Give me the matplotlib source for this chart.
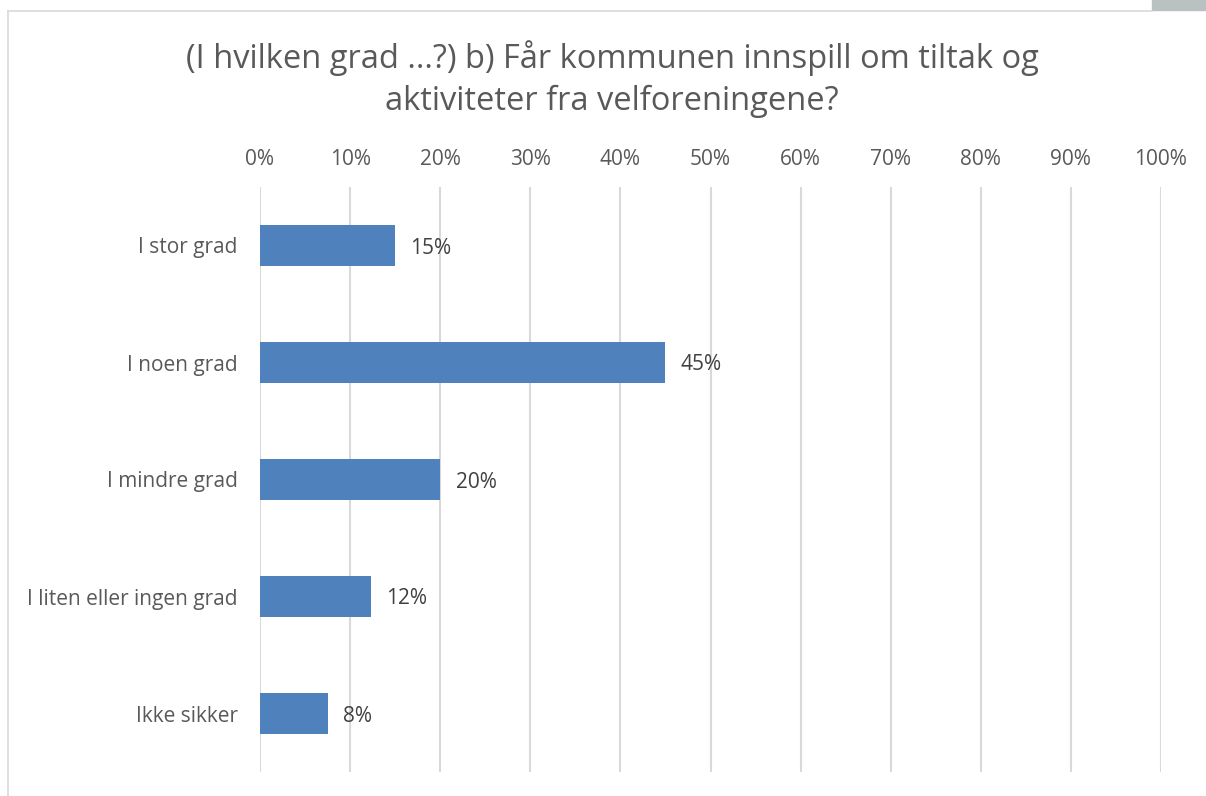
import matplotlib
matplotlib.use("Agg")
import matplotlib.pyplot as plt
from matplotlib.patches import Rectangle
from matplotlib.lines import Line2D

# ── Data ────────────────────────────────────────────────────────────────
categories = ["I stor grad", "I noen grad", "I mindre grad",
              "I liten eller ingen grad", "Ikke sikker"]
values = [15.0, 45.0, 20.0, 12.3, 7.5]
labels = ["15%", "45%", "20%", "12%", "8%"]
ticks = list(range(0, 101, 10))
title = "(I hvilken grad ...?) b) Får kommunen innspill om tiltak og\naktiviteter fra velforeningene?"

W, H = 1206, 796
TXT = "#595959"
plt.rcParams["font.family"] = ["Open Sans", "DejaVu Sans"]

fig = plt.figure(figsize=(W / 100, H / 100), dpi=100)
ax = fig.add_axes([260 / W, 1 - 772 / H, (1161 - 260) / W, (772 - 187) / H])

y = list(range(len(categories)))
ax.barh(y, values, height=0.35, color="#4F81BD", zorder=3)
for yi, v, lab in zip(y, values, labels):
    ax.text(v + 1.7, yi, lab, va="center_baseline", ha="left", fontsize=15, color="#404040")

ax.set_xlim(0, 100)
ax.set_ylim(len(categories) - 0.5, -0.5)
ax.set_yticks(y)
ax.set_yticklabels(categories, fontsize=15, color=TXT)
ax.set_xticks(ticks)
ax.set_xticklabels([f"{t}%" for t in ticks], fontsize=15, color=TXT)
ax.xaxis.tick_top()
ax.tick_params(axis="x", length=0, pad=12)
ax.tick_params(axis="y", length=0, pad=16)
ax.grid(axis="x", color="#D9D9D9", linewidth=1.5, zorder=0)
for s in ax.spines.values():
    s.set_visible(False)

fig.text(612 / W, 1 - 79 / H, title, ha="center", va="center", fontsize=23.5,
         color=TXT, linespacing=1.35)

# chart frame (cropped screenshot)
fig.add_artist(Line2D([8 / W, 8 / W], [0, 1 - 11 / H], color="#D9D9D9", lw=1.2))
fig.add_artist(Line2D([8 / W, 1152 / W], [1 - 11 / H, 1 - 11 / H], color="#D9D9D9", lw=1.2))
fig.add_artist(Rectangle((1152 / W, 1 - 10 / H), 54 / W, 10 / H, color="#B9C1C1",
                         transform=fig.transFigure))

fig.savefig("out.png", dpi=100)
